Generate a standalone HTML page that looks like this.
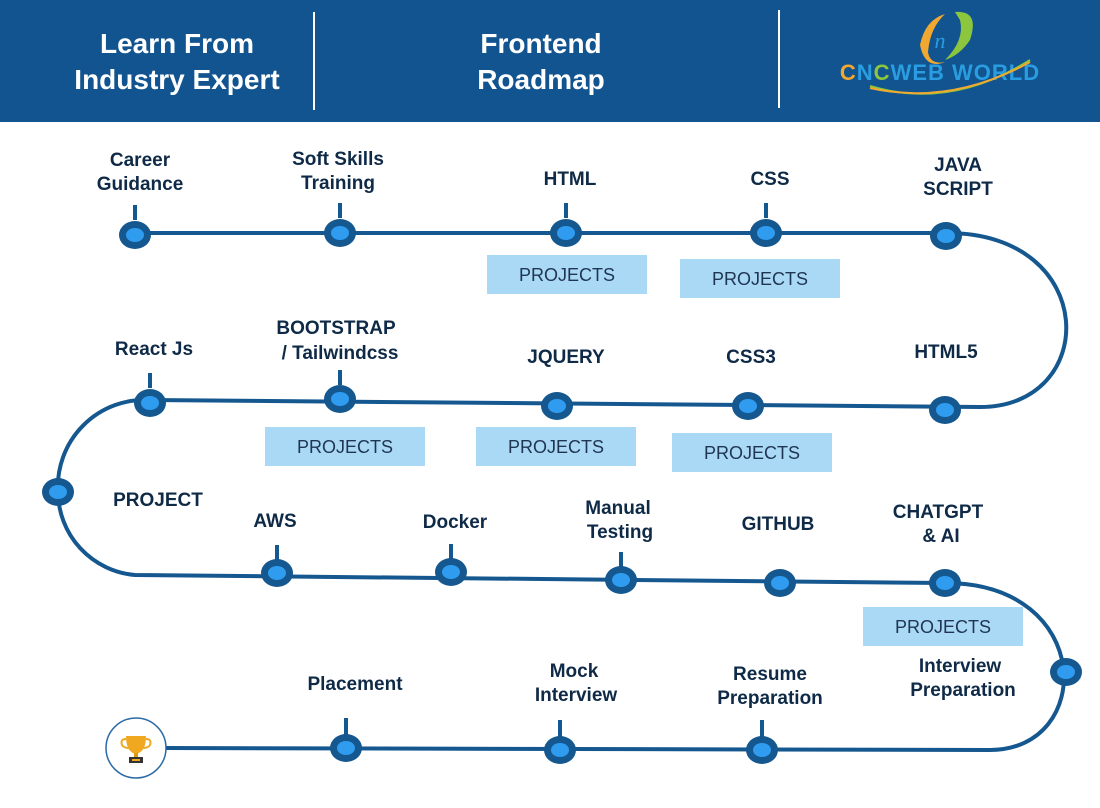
<!DOCTYPE html>
<html><head><style>
body{margin:0;width:1100px;height:803px;overflow:hidden;background:#fff;font-family:"Liberation Sans",sans-serif}
</style></head><body>
<svg width="1100" height="803" xmlns="http://www.w3.org/2000/svg" font-family="Liberation Sans, sans-serif">
<rect x="0" y="0" width="1100" height="122" fill="#11548f"/>
<line x1="314" y1="12" x2="314" y2="110" stroke="#fff" stroke-width="2"/>
<line x1="779" y1="10" x2="779" y2="108" stroke="#fff" stroke-width="2"/>
<g fill="#fff" font-weight="bold" font-size="28" text-anchor="middle">
<text x="177" y="53">Learn From</text><text x="177" y="89">Industry Expert</text>
<text x="541" y="53">Frontend</text><text x="541" y="89">Roadmap</text>
</g>
<path d="M920 45 Q925 20 945 14 Q930 28 928 52 Q930 65 945 62 Q925 70 920 45Z" fill="#f0a830"/>
<path d="M955 12 Q980 10 970 40 Q960 55 945 60 Q965 40 960 20Z" fill="#8cc63f"/>
<text x="940" y="48" font-size="22" font-style="italic" fill="#2a9de0" font-family="Liberation Serif, serif" text-anchor="middle">n</text>
<text x="940" y="80" font-size="22" font-weight="bold" fill="#2a9de0" text-anchor="middle" letter-spacing="1"><tspan fill="#f0a830">C</tspan><tspan fill="#2a9de0">N</tspan><tspan fill="#8cc63f">C</tspan>WEB WORLD</text>
<path d="M870 86 Q950 110 1030 60" stroke="#8cc63f" stroke-width="2" fill="none"/>
<path d="M870 88 Q950 106 1030 62" stroke="#f0a830" stroke-width="2" fill="none"/>

<path d="M135 233 L947 233 C1100 233 1100 407 980 407 L150 400 A87 87 0 0 0 58 492 A84 84 0 0 0 135 575 L945 583 C1095 583 1095 750 990 750 L165 748" fill="none" stroke="#15578f" stroke-width="4"/>

<g fill="#a9d9f5">
<rect x="487" y="255" width="160" height="39"/><rect x="680" y="259" width="160" height="39"/>
<rect x="265" y="427" width="160" height="39"/><rect x="476" y="427" width="160" height="39"/>
<rect x="672" y="433" width="160" height="39"/><rect x="863" y="607" width="160" height="39"/>
</g>
<g fill="#1f3552" font-size="18" text-anchor="middle">
<text x="567" y="281">PROJECTS</text><text x="760" y="285">PROJECTS</text>
<text x="345" y="453">PROJECTS</text><text x="556" y="453">PROJECTS</text>
<text x="752" y="459">PROJECTS</text><text x="943" y="633">PROJECTS</text>
</g>

<g stroke="#15578f" stroke-width="4">
<line x1="135" y1="220" x2="135" y2="205"/><line x1="340" y1="218" x2="340" y2="203"/><line x1="566" y1="218" x2="566" y2="203"/>
<line x1="766" y1="218" x2="766" y2="203"/><line x1="150" y1="388" x2="150" y2="373"/><line x1="340" y1="385" x2="340" y2="370"/>
<line x1="277" y1="560" x2="277" y2="545"/><line x1="451" y1="559" x2="451" y2="544"/><line x1="621" y1="567" x2="621" y2="552"/>
<line x1="346" y1="735" x2="346" y2="718"/><line x1="560" y1="737" x2="560" y2="720"/><line x1="762" y1="737" x2="762" y2="720"/>
</g>
<g fill="#15578f">
<ellipse cx="135" cy="235" rx="16" ry="14"/><ellipse cx="340" cy="233" rx="16" ry="14"/><ellipse cx="566" cy="233" rx="16" ry="14"/><ellipse cx="766" cy="233" rx="16" ry="14"/><ellipse cx="946" cy="236" rx="16" ry="14"/>
<ellipse cx="945" cy="410" rx="16" ry="14"/><ellipse cx="748" cy="406" rx="16" ry="14"/><ellipse cx="557" cy="406" rx="16" ry="14"/><ellipse cx="340" cy="399" rx="16" ry="14"/><ellipse cx="150" cy="403" rx="16" ry="14"/>
<ellipse cx="58" cy="492" rx="16" ry="14"/>
<ellipse cx="277" cy="573" rx="16" ry="14"/><ellipse cx="451" cy="572" rx="16" ry="14"/><ellipse cx="621" cy="580" rx="16" ry="14"/><ellipse cx="780" cy="583" rx="16" ry="14"/><ellipse cx="945" cy="583" rx="16" ry="14"/>
<ellipse cx="1066" cy="672" rx="16" ry="14"/>
<ellipse cx="762" cy="750" rx="16" ry="14"/><ellipse cx="560" cy="750" rx="16" ry="14"/><ellipse cx="346" cy="748" rx="16" ry="14"/>
</g>
<g fill="#2f9cf0">
<ellipse cx="135" cy="235" rx="9" ry="7"/><ellipse cx="340" cy="233" rx="9" ry="7"/><ellipse cx="566" cy="233" rx="9" ry="7"/><ellipse cx="766" cy="233" rx="9" ry="7"/><ellipse cx="946" cy="236" rx="9" ry="7"/>
<ellipse cx="945" cy="410" rx="9" ry="7"/><ellipse cx="748" cy="406" rx="9" ry="7"/><ellipse cx="557" cy="406" rx="9" ry="7"/><ellipse cx="340" cy="399" rx="9" ry="7"/><ellipse cx="150" cy="403" rx="9" ry="7"/>
<ellipse cx="58" cy="492" rx="9" ry="7"/>
<ellipse cx="277" cy="573" rx="9" ry="7"/><ellipse cx="451" cy="572" rx="9" ry="7"/><ellipse cx="621" cy="580" rx="9" ry="7"/><ellipse cx="780" cy="583" rx="9" ry="7"/><ellipse cx="945" cy="583" rx="9" ry="7"/>
<ellipse cx="1066" cy="672" rx="9" ry="7"/>
<ellipse cx="762" cy="750" rx="9" ry="7"/><ellipse cx="560" cy="750" rx="9" ry="7"/><ellipse cx="346" cy="748" rx="9" ry="7"/>
</g>
<circle cx="136" cy="748" r="30" fill="#fff" stroke="#2a6aa5" stroke-width="1.5"/>
<path d="M126 736 H146 Q146 752 136 754 Q126 752 126 736Z" fill="#f0a820"/>
<path d="M126 739 Q120 739 122 745 Q124 748 129 748 M146 739 Q152 739 150 745 Q148 748 143 748" fill="none" stroke="#f0a820" stroke-width="2"/>
<rect x="134" y="753" width="4" height="5" fill="#e09a10"/>
<rect x="129" y="757" width="14" height="6" fill="#333"/>
<rect x="132" y="759" width="8" height="2" fill="#f0a820"/>

<g fill="#0f2a47" font-weight="bold" font-size="19" text-anchor="middle">
<text x="140" y="166">Career</text><text x="140" y="190">Guidance</text>
<text x="338" y="165">Soft Skills</text><text x="338" y="189">Training</text>
<text x="570" y="185">HTML</text>
<text x="770" y="185">CSS</text>
<text x="958" y="171">JAVA</text><text x="958" y="195">SCRIPT</text>
<text x="154" y="355">React Js</text>
<text x="336" y="334">BOOTSTRAP</text><text x="340" y="359">/ Tailwindcss</text>
<text x="566" y="363">JQUERY</text>
<text x="751" y="363">CSS3</text>
<text x="946" y="358">HTML5</text>
<text x="158" y="506">PROJECT</text>
<text x="275" y="527">AWS</text>
<text x="455" y="528">Docker</text>
<text x="618" y="514">Manual</text><text x="620" y="538">Testing</text>
<text x="778" y="530">GITHUB</text>
<text x="938" y="518">CHATGPT</text><text x="941" y="542">&amp; AI</text>
<text x="960" y="672">Interview</text><text x="963" y="696">Preparation</text>
<text x="355" y="690">Placement</text>
<text x="574" y="677">Mock</text><text x="576" y="701">Interview</text>
<text x="770" y="680">Resume</text><text x="770" y="704">Preparation</text>
</g>
</svg>
</body></html>
